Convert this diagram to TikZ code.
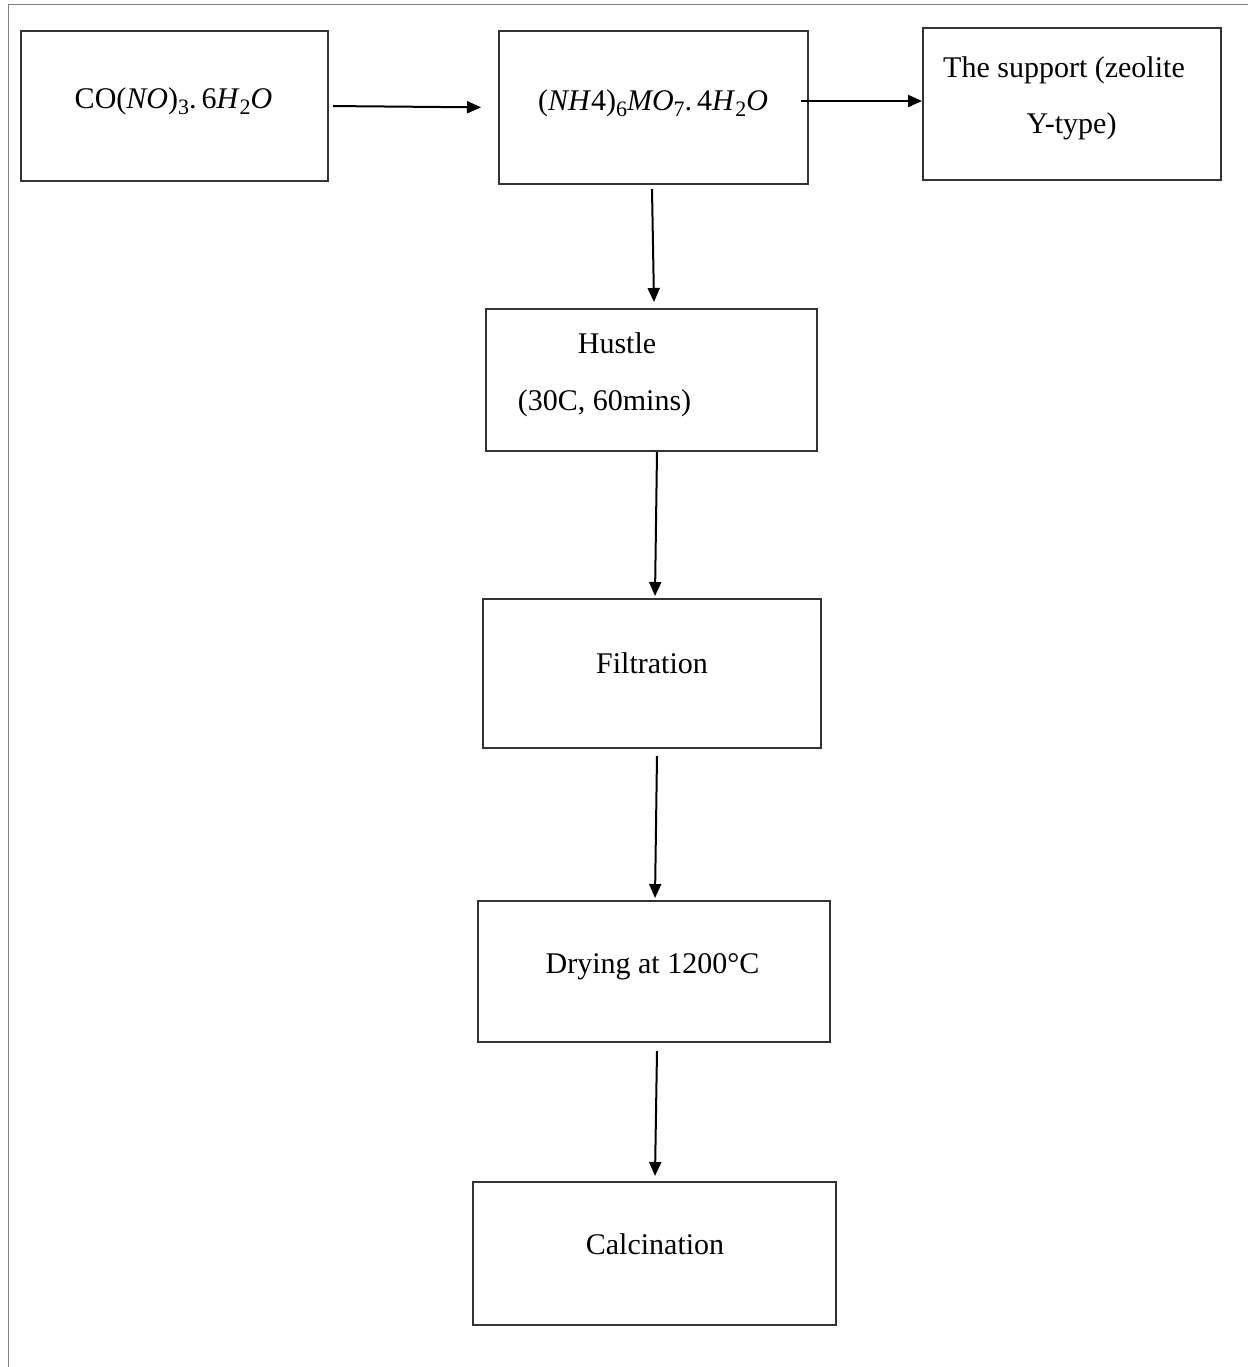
\documentclass[tikz,border=0pt]{standalone}
\usepackage{fontspec}
\setmainfont{Liberation Serif}
\usetikzlibrary{arrows.meta}
\newcommand\mysb[1]{\raisebox{-3pt}{\fontsize{11}{12}\selectfont #1}}
\begin{document}
\begin{tikzpicture}[x=0.5pt,y=-0.5pt,
  box/.style={draw=black!80,line width=1pt,inner sep=0pt,anchor=center},
  txt/.style={anchor=base,inner sep=0pt,font=\fontsize{15}{18}\selectfont},
  arr/.style={draw=black,line width=1pt,-{Triangle[length=7pt,width=6pt]}},
  frame/.style={draw=black!50,line width=0.8pt}]
\useasboundingbox (0,0) rectangle (1248,1367);
\draw[frame] (8.5,1367) -- (8.5,4.5) -- (1248,4.5);
% boxes
\node[box,minimum width=153.5pt,minimum height=75pt] (co) at (174.5,106) {};
\node[box,minimum width=154.5pt,minimum height=76.5pt] (nh) at (653.5,107.5) {};
\node[box,minimum width=149pt,minimum height=76pt] (sup) at (1072,104) {};
\node[box,minimum width=165.5pt,minimum height=71pt] (hu) at (651.5,380) {};
\node[box,minimum width=169pt,minimum height=74.5pt] (fi) at (652,673.5) {};
\node[box,minimum width=176pt,minimum height=70.5pt] (dr) at (654,971.5) {};
\node[box,minimum width=181.5pt,minimum height=71.5pt] (ca) at (654.5,1253.5) {};
% texts
\node[txt] (tco) at (173.5,108) {CO(\textit{NO})\mysb{3}.\,6\textit{H}\mysb{2}\textit{O}};
\node[txt] (tnh) at (653,110) {(\textit{NH}4)\mysb{6}\textit{MO}\mysb{7}.\,4\textit{H}\mysb{2}\textit{O}};
\node[txt] (ts1) at (1064,77) {The support (zeolite};
\node[txt] (ts2) at (1071.5,133) {Y-type)};
\node[txt] (th1) at (617,353) {Hustle};
\node[txt] (th2) at (604.5,410) {(30C, 60mins)};
\node[txt] (tfi) at (652,673) {Filtration};
\node[txt] (tdr) at (652.5,973) {Drying at 1200°C};
\node[txt] (tca) at (655,1254) {Calcination};
% connectors
\draw[arr,shorten <=2pt,shorten >=8.5pt] (co.east) -- (nh.west);
\draw[arr] ([xshift=-4pt,yshift=3.25pt]nh.east) -- ([yshift=1.5pt]sup.west);
\draw[arr] ([xshift=-0.75pt,yshift=-2pt]nh.south) -- ([xshift=1.25pt,yshift=3pt]hu.north);
\draw[arr] ([xshift=2.75pt]hu.south) -- ([xshift=1.5pt,yshift=1pt]fi.north);
\draw[arr] ([xshift=2.5pt,yshift=-3.5pt]fi.south) -- ([xshift=0.5pt,yshift=1pt]dr.north);
\draw[arr] ([xshift=1.5pt,yshift=-4pt]dr.south) -- ([xshift=0.25pt,yshift=2.5pt]ca.north);
\end{tikzpicture}
\end{document}
